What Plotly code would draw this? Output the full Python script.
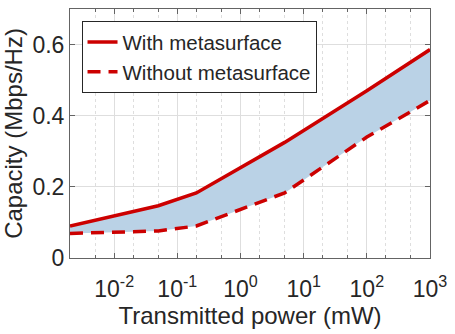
import plotly.graph_objects as go

# Capacity vs transmitted power
power_mw = [0.002, 0.05, 0.2, 5, 100, 1000]
cap_with = [0.090, 0.147, 0.183, 0.325, 0.470, 0.586]
cap_without = [0.069, 0.076, 0.090, 0.183, 0.340, 0.443]

xtick_vals = [1e-2, 1e-1, 1e0, 1e1, 1e2, 1e3]
xtick_text = ["10<sup>-2</sup>", "10<sup>-1</sup>", "10<sup>0</sup>",
              "10<sup>1</sup>", "10<sup>2</sup>", "10<sup>3</sup>"]
ytick_vals = [0, 0.2, 0.4, 0.6]
ytick_text = ["0", "0.2", "0.4", "0.6"]

red = "rgb(204,0,0)"
band = "rgb(186,210,230)"
axis_col = "rgb(100,100,100)"
text_col = "rgb(38,38,38)"
grid_col = "rgb(222,222,222)"

fig = go.Figure()

# shaded gap between the two curves
fig.add_trace(go.Scatter(x=power_mw, y=cap_without, mode="lines",
                         line=dict(width=0), showlegend=False, hoverinfo="skip"))
fig.add_trace(go.Scatter(x=power_mw, y=cap_with, mode="lines",
                         line=dict(width=0), fill="tonexty", fillcolor=band,
                         showlegend=False, hoverinfo="skip"))

fig.add_trace(go.Scatter(x=power_mw, y=cap_with, mode="lines",
                         name="With metasurface",
                         line=dict(color=red, width=3.5)))
fig.add_trace(go.Scatter(x=power_mw, y=cap_without, mode="lines",
                         name="Without metasurface",
                         line=dict(color=red, width=3.5, dash="13px,8px")))

fig.update_layout(
    width=455, height=334,
    margin=dict(l=70, r=18, t=8, b=76),
    plot_bgcolor="white", paper_bgcolor="white",
    font=dict(family="Liberation Sans, Arial, sans-serif", color=text_col, size=23),
    showlegend=True,
    legend=dict(x=0.032, y=0.951, xanchor="left", yanchor="top",
                traceorder="normal",
                bgcolor="white", bordercolor=text_col, borderwidth=1,
                font=dict(size=20.5), tracegroupgap=0),
)

fig.update_xaxes(
    type="log", range=[-2.699, 3],
    tickvals=xtick_vals, ticktext=xtick_text, ticklabeloverflow="allow",
    ticklabelstandoff=10,
    title=dict(text="Transmitted power (mW)", font=dict(size=24), standoff=4),
    showline=True, linecolor=axis_col, linewidth=1, mirror="ticks",
    ticks="inside", ticklen=5, tickcolor=axis_col,
    showgrid=True, gridcolor=grid_col, gridwidth=1,
    minor=dict(ticks="inside", ticklen=3, tickcolor=axis_col,
               showgrid=True, gridcolor=grid_col, griddash="dot"),
    zeroline=False,
)
fig.update_yaxes(
    range=[0, 0.7],
    tickvals=ytick_vals, ticktext=ytick_text,
    title=dict(text="Capacity (Mbps/Hz)", font=dict(size=24), standoff=6),
    showline=True, linecolor=axis_col, linewidth=1, mirror="ticks",
    ticks="inside", ticklen=5, tickcolor=axis_col,
    showgrid=True, gridcolor=grid_col, gridwidth=1,
    zeroline=False,
)

# page body has a default 8px margin; drop it so the figure fills the window
fig.write_html("out.html", config={"displayModeBar": False},
               post_script="document.body.style.margin='0';")
